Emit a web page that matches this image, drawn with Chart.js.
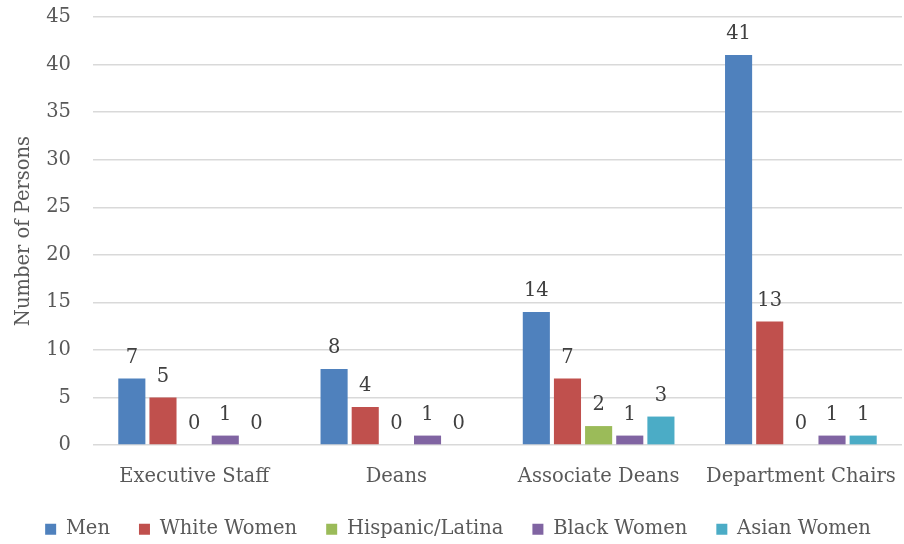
<!DOCTYPE html>
<html><head><meta charset="utf-8">
<script src="https://cdn.jsdelivr.net/npm/chart.js@4/dist/chart.umd.min.js"></script>
<style>html,body{margin:0;padding:0;background:#fff}#wrap{width:904px;height:544px}</style>
</head><body><div id="wrap"><canvas id="c" width="904" height="544"></canvas></div>
<script>
const categories = ["Executive Staff", "Deans", "Associate Deans", "Department Chairs"];
const men = [7, 8, 14, 41];
const whiteWomen = [5, 4, 7, 13];
const hispanicLatina = [0, 0, 2, 0];
const blackWomen = [1, 1, 1, 1];
const asianWomen = [0, 0, 3, 1];
const yTicks = [0, 5, 10, 15, 20, 25, 30, 35, 40, 45];

const FONT = "'DejaVu Serif', 'Liberation Serif', serif";
const TXT = '#595959';
const FS = 19.5;

const labelPlugin = {
  id: 'barLabels',
  afterDatasetsDraw(chart) {
    const ctx = chart.ctx;
    ctx.save();
    ctx.font = FS + 'px ' + FONT;
    ctx.fillStyle = '#404040';
    ctx.textAlign = 'center';
    ctx.textBaseline = 'bottom';
    chart.data.datasets.forEach((ds, i) => {
      const meta = chart.getDatasetMeta(i);
      meta.data.forEach((bar, j) => {
        ctx.fillText(String(ds.data[j]), bar.x, bar.y - 11);
      });
    });
    ctx.restore();
  }
};

new Chart(document.getElementById('c'), {
  type: 'bar',
  data: {
    labels: categories,
    datasets: [
      {label: 'Men', data: men, backgroundColor: '#4F81BD'},
      {label: 'White Women', data: whiteWomen, backgroundColor: '#C0504D'},
      {label: 'Hispanic/Latina', data: hispanicLatina, backgroundColor: '#9BBB59'},
      {label: 'Black Women', data: blackWomen, backgroundColor: '#8064A2'},
      {label: 'Asian Women', data: asianWomen, backgroundColor: '#4BACC6'}
    ]
  },
  options: {
    responsive: false,
    animation: false,
    devicePixelRatio: 1,
    layout: {padding: {left: 12, right: 0, top: 0, bottom: -5}},
    datasets: {bar: {categoryPercentage: 0.77, barPercentage: 0.87}},
    plugins: {
      legend: {
        position: 'bottom',
        labels: {
          font: {family: FONT, size: FS},
          color: TXT,
          boxWidth: 11, boxHeight: 11,
          padding: 29
        }
      },
      tooltip: {enabled: false}
    },
    scales: {
      x: {
        afterFit(axis) { axis.height -= 10; axis.paddingRight = 2; },
        grid: {display: false},
        border: {display: false},
        ticks: {font: {family: FONT, size: FS}, color: TXT, padding: 12}
      },
      y: {
        min: 0, max: 45,
        afterBuildTicks(axis) { axis.ticks = yTicks.map(v => ({value: v})); },
        afterFit(axis) { axis.width = 81; axis.paddingTop = 17; axis.paddingBottom = 0; },
        grid: {color: '#d9d9d9', lineWidth: 1.5, drawTicks: false},
        border: {display: false},
        ticks: {font: {family: FONT, size: FS}, color: TXT, padding: 22},
        title: {display: true, text: 'Number of Persons', font: {family: FONT, size: FS}, color: TXT, padding: 0}
      }
    }
  },
  plugins: [labelPlugin]
});
</script></body></html>
